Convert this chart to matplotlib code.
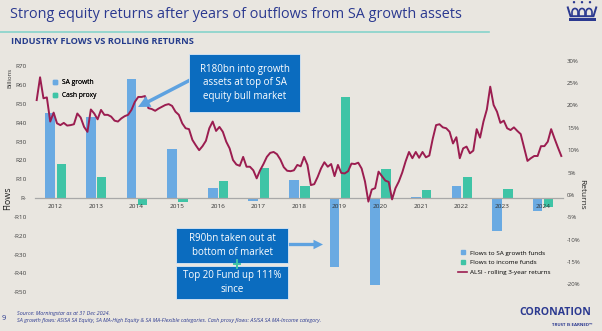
import numpy as np
import matplotlib
matplotlib.use('Agg')
import matplotlib.pyplot as plt
from matplotlib.patches import Rectangle, FancyArrow, Polygon, Arc, Circle
from matplotlib.lines import Line2D
from matplotlib.ticker import FuncFormatter

plt.rcParams['font.family'] = ['Open Sans', 'DejaVu Sans']

# annual net flows, R billions
years = ['2012', '2013', '2014', '2015', '2016', '2017', '2018',
         '2019', '2020', '2021', '2022', '2023', '2024']
sa_growth = [45.3, 43.2, 63.2, 26.0, 5.5, -1.6, 9.4, -36.5, -46.2, 0.3, 6.5, -17.5, -6.7]
cash_proxy = [18.0, 11.1, -3.7, -2.0, 9.2, 15.8, 6.2, 53.5, 15.4, 4.2, 11.0, 4.6, -4.6]

# ALSI rolling 3-year return (%), monthly Jan 2012 - Dec 2024
alsi_3y = [
    21.2, 26.3, 21.6, 21.8, 16.4, 18.4, 16.0, 15.6, 16.1, 15.5, 15.6, 15.8,
    18.2, 17.3, 15.2, 14.1, 19.1, 18.2, 16.9, 19.0, 17.9, 17.9, 17.5, 16.6,
    16.4, 17.1, 17.6, 17.9, 19.0, 20.8, 21.9, 21.9, 22.1, 19.4, 19.2, 18.8,
    19.3, 19.7, 20.1, 20.3, 19.9, 18.6, 17.9, 16.0, 14.9, 14.7, 12.3, 11.1,
    10.0, 10.9, 12.1, 14.9, 16.4, 14.3, 15.2, 14.1, 11.9, 10.4, 7.8, 6.8,
    6.5, 8.5, 6.3, 6.3, 5.5, 3.7, 5.5, 6.9, 8.5, 9.4, 9.6, 9.1,
    7.9, 6.2, 5.4, 5.3, 5.5, 6.7, 6.4, 8.5, 6.7, 2.2, 2.4, 4.0,
    5.9, 7.3, 6.3, 6.9, 4.2, 6.7, 4.9, 4.8, 5.3, 7.0, 6.9, 7.2,
    5.9, 3.0, -1.5, 1.2, 1.5, 5.2, 4.2, 3.2, 2.9, -1.0, 1.5, 3.0,
    5.0, 7.5, 9.6, 8.2, 9.6, 8.3, 9.6, 8.4, 8.8, 12.5, 15.6, 15.8,
    15.1, 14.9, 14.1, 11.5, 12.9, 8.2, 10.4, 10.8, 9.3, 9.9, 14.7, 12.8,
    16.4, 19.1, 24.2, 20.1, 18.6, 16.1, 16.6, 14.9, 14.5, 15.1, 14.3, 13.6,
    10.6, 7.6, 8.2, 8.7, 8.7, 10.9, 10.9, 11.9, 14.7, 12.6, 10.6, 8.7,
]

BG = '#E9E6E0'
NAVY = '#2B3990'
BLUE = '#6AAAE2'
GREEN = '#3FC4A6'
MAROON = '#9B1D50'
BOX = '#0B6CBF'
ARROW = '#5EA2E0'

W, H = 602, 331
fig = plt.figure(figsize=(W / 100, H / 100), dpi=100, facecolor=BG)


def px(x0, y0, x1, y1):
    return [x0 / W, 1 - y1 / H, (x1 - x0) / W, (y1 - y0) / H]


ax = fig.add_axes(px(35, 60, 563, 296))
ax.set_facecolor('none')
ax.set_axisbelow(False)
ax2 = ax.twinx()

xi = np.arange(len(years))
ax.bar(xi - 0.125, sa_growth, width=0.24, color=BLUE, zorder=2)
ax.bar(xi + 0.145, cash_proxy, width=0.23, color=GREEN, zorder=2)

months = np.arange(len(alsi_3y))
ax2.plot(-0.5 + (months + 0.5) / 12, alsi_3y, color=MAROON, lw=1.4)

ax.set_xlim(-0.5, len(years) - 0.5)
ax.set_ylim(-52.0, 73.3)
ax2.set_ylim(-22.6, 30.16)

for s in ['top', 'left', 'right']:
    ax.spines[s].set_visible(False)
for s in ax2.spines.values():
    s.set_visible(False)
ax.spines['bottom'].set_position(('data', 0))
ax.spines['bottom'].set_color('#A8A8A8')
ax.spines['bottom'].set_linewidth(0.9)

ax.set_xticks(xi)
ax.set_xticklabels(years)
ax.tick_params(axis='x', length=0, pad=4, labelsize=4.6, labelcolor='#333333')


def rand_fmt(v, pos):
    v = int(round(v))
    if v == 0:
        return 'R-'
    return 'R%d' % v if v > 0 else '-R%d' % -v


ax.set_yticks(range(-50, 71, 10))
ax.yaxis.set_major_formatter(FuncFormatter(rand_fmt))
ax.tick_params(axis='y', length=0, pad=6, labelsize=4.6, labelcolor='#404040')

ax2.set_yticks(range(-20, 31, 5))
ax2.yaxis.set_major_formatter(FuncFormatter(lambda v, p: '%d%%' % v))
ax2.tick_params(axis='y', length=0, pad=3, labelsize=4.3, labelcolor='#404040')

# legends
leg1 = ax.legend([Line2D([], [], ls='none', marker='s', ms=3, color=BLUE),
                  Line2D([], [], ls='none', marker='s', ms=3, color=GREEN)],
                 ['SA growth', 'Cash proxy'],
                 loc='upper left', bbox_to_anchor=(49 / W, 1 - 76 / H),
                 bbox_transform=fig.transFigure, frameon=False, fontsize=4.8,
                 handlelength=0.8, handletextpad=0.7, labelspacing=0.9, borderpad=0)
ax.add_artist(leg1)
ax2.legend([Line2D([], [], ls='none', marker='s', ms=3, color=BLUE),
            Line2D([], [], ls='none', marker='s', ms=3, color=GREEN),
            Line2D([], [], color=MAROON, lw=1.2)],
           ['Flows to SA growth funds', 'Flows to income funds',
            'ALSI - rolling 3-year returns'],
           loc='upper left', bbox_to_anchor=(455 / W, 1 - 247 / H),
           bbox_transform=fig.transFigure, frameon=False, fontsize=4.6,
           handlelength=1.4, handletextpad=0.4, labelspacing=0.65, borderpad=0)

# axis titles
fig.text(10 / W, 1 - 78 / H, 'Billions', rotation=90, fontsize=4.3,
         color='#333333', ha='center', va='center')
fig.text(8 / W, 1 - 198 / H, 'Flows', rotation=90, fontsize=6.5,
         color='#222222', ha='center', va='center')
fig.text(582 / W, 1 - 194 / H, 'Returns', rotation=-90, fontsize=6,
         color='#222222', ha='center', va='center')

# header
fig.text(10 / W, 1 - 15 / H, 'Strong equity returns after years of outflows from SA growth assets',
         fontsize=10.4, color=NAVY, va='center')
fig.add_artist(Line2D([0, 489 / W], [1 - 32 / H, 1 - 32 / H], color='#86D3CB', lw=1.2))
fig.text(11 / W, 1 - 41.5 / H, 'INDUSTRY FLOWS VS ROLLING RETURNS', fontsize=6.7,
         fontweight='bold', color='#253C8C', va='center')

# pixel overlay for call-outs, logo and footer
ov = fig.add_axes([0, 0, 1, 1])
ov.set_xlim(0, W)
ov.set_ylim(H, 0)
ov.axis('off')
ov.set_zorder(5)
ov.patch.set_alpha(0)

ov.add_patch(FancyArrow(196, 77, 138 - 196, 107 - 77, width=3.5, head_width=12,
                        head_length=12, length_includes_head=True, color=ARROW, lw=0))
ov.add_patch(Rectangle((189, 54), 111, 58, fc=BOX, ec='#DCE8F5', lw=0.6))
ov.text(244.5, 83, 'R180bn into growth\nassets at top of SA\nequity bull market',
        color='white', fontsize=7, ha='center', va='center', linespacing=1.35)

ov.add_patch(FancyArrow(280, 244.5, 43, 0, width=3.3, head_width=9.5,
                        head_length=9.5, length_includes_head=True, color=ARROW, lw=0))
ov.add_patch(Rectangle((176, 228.3), 112, 34.4, fc=BOX, ec='#DCE8F5', lw=0.6))
ov.text(232, 245.5, 'R90bn taken out at\nbottom of market', color='white',
        fontsize=7, ha='center', va='center', linespacing=1.35)
ov.add_patch(Rectangle((176, 265.7), 112, 33.6, fc=BOX, ec='#DCE8F5', lw=0.6))
ov.text(232, 282.5, 'Top 20 Fund up 111%\nsince', color='white',
        fontsize=7, ha='center', va='center', linespacing=1.35)
ov.plot([233.5, 240], [264, 264], color=GREEN, lw=1.4)
ov.plot([236.7, 236.7], [260, 268], color=GREEN, lw=1.4)

# crown (y axis runs downward here)
ov.add_patch(Rectangle((568.5, 18.3), 27, 2.8, fc=NAVY, lw=0))
ov.add_patch(Polygon([(567.5, 6.5), (570.5, 16.2), (593.5, 16.2), (596.5, 6.5)],
                     closed=False, fill=False, ec=NAVY, lw=1.4))
for cx in (575, 582, 589):
    ov.add_patch(Arc((cx, 11.5), 5.5, 6, theta1=180, theta2=360, ec=NAVY, lw=1.2))
    ov.plot([cx - 2.75, cx - 2.75], [11.5, 16.2], color=NAVY, lw=1.2)
    ov.plot([cx + 2.75, cx + 2.75], [11.5, 16.2], color=NAVY, lw=1.2)
for cx in (574, 582, 590):
    ov.add_patch(Circle((cx, 2.2), 1.2, fc=NAVY, lw=0))

# footer
ov.text(2, 318, '9', fontsize=5.5, color=NAVY, va='center')
ov.text(17, 313.3, 'Source: Morningstar as at 31 Dec 2024.', fontsize=3.9,
        style='italic', color=NAVY, va='center')
ov.text(17, 320.7, 'SA growth flows: ASISA SA Equity, SA MA-High Equity & SA MA-Flexible '
        'categories. Cash proxy flows: ASISA SA MA-Income category.', fontsize=3.9,
        style='italic', color=NAVY, va='center')
ov.text(555, 312.7, 'CORONATION', fontsize=7.6, fontweight='bold', color=NAVY,
        ha='center', va='center')
ov.text(592, 325, 'TRUST IS EARNED\u2122', fontsize=3.2, fontweight='bold', color=NAVY,
        ha='right', va='center')

fig.savefig('out.png', dpi=100, facecolor=BG)
